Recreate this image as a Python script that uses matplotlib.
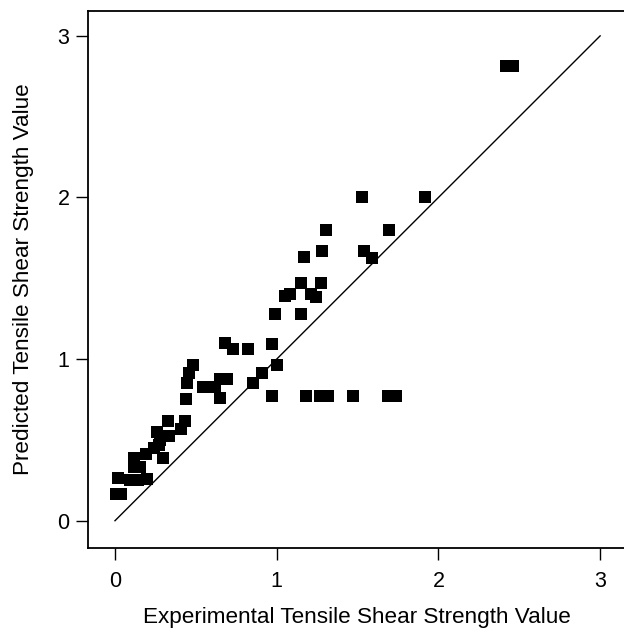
import matplotlib
matplotlib.use("Agg")
import matplotlib.pyplot as plt

plt.rcParams['font.family'] = ['Liberation Sans', 'DejaVu Sans']

experimental = [0.005, 0.035, 0.02, 0.09, 0.14, 0.195, 0.115, 0.115, 0.155,
                0.19, 0.24, 0.26, 0.275, 0.30, 0.28, 0.325, 0.335, 0.41, 0.435,
                0.44, 0.443, 0.455, 0.485,
                0.545, 0.62, 0.65, 0.69, 0.65,
                0.68, 0.73, 0.82, 0.97, 1.0, 0.907, 0.855,
                0.97, 1.18, 1.27, 1.32, 1.47, 1.69, 1.74,
                0.99, 1.15, 1.05, 1.08, 1.21, 1.24, 1.15, 1.273, 1.167, 1.28,
                1.305, 1.54, 1.59, 1.695, 1.527, 1.92, 2.42, 2.46]
predicted = [0.167, 0.167, 0.262, 0.254, 0.254, 0.258, 0.39, 0.33, 0.33,
             0.415, 0.453, 0.552, 0.47, 0.39, 0.50, 0.62, 0.525, 0.565, 0.62,
             0.756, 0.855, 0.912, 0.963,
             0.83, 0.83, 0.875, 0.875, 0.757,
             1.098, 1.06, 1.06, 1.095, 0.963, 0.912, 0.854,
             0.772, 0.772, 0.772, 0.772, 0.772, 0.772, 0.772,
             1.28, 1.28, 1.39, 1.40, 1.40, 1.385, 1.473, 1.473, 1.632, 1.667,
             1.80, 1.667, 1.627, 1.80, 2.0, 2.0, 2.816, 2.816]
ref_line = [0, 3]
ticks = [0, 1, 2, 3]

fig = plt.figure(figsize=(6.24, 6.29), dpi=100)
W, H = 624, 629
left_px, right_px, top_px, bottom_px = 88.3, 626, 11, 547.7
ax = fig.add_axes([left_px / W, (H - bottom_px) / H,
                   (right_px - left_px) / W, (bottom_px - top_px) / H])

ax.plot(ref_line, ref_line, color='black', linewidth=1.0)
ax.plot(experimental, predicted, linestyle='none', marker='s',
        markersize=8.2, color='black', markeredgewidth=0)

ax.set_xlim(-0.165, 3.160)
ax.set_ylim(-0.167, 3.154)
ax.set_xticks(ticks)
ax.set_yticks(ticks)
ax.set_xticklabels([str(t) for t in ticks])
ax.set_yticklabels([str(t) for t in ticks])

for s in ax.spines.values():
    s.set_linewidth(1.3)
ax.tick_params(direction='out', length=8.5, width=1.0, labelsize=15.5,
               colors='black')
ax.tick_params(axis='x', pad=8)
ax.tick_params(axis='y', pad=5)

ax.set_xlabel('Experimental Tensile Shear Strength Value', fontsize=16.2,
              labelpad=11)
ax.set_ylabel('Predicted Tensile Shear Strength Value', fontsize=16.2,
              labelpad=17)

fig.savefig('out.png', dpi=100)
